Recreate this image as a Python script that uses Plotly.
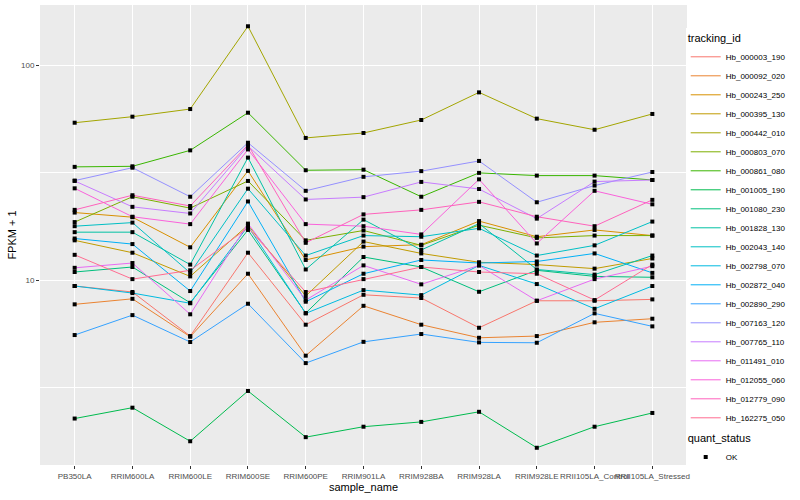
import plotly.graph_objects as go

samples = ["PB350LA", "RRIM600LA", "RRIM600LE", "RRIM600SE", "RRIM600PE", "RRIM901LA",
           "RRIM928BA", "RRIM928LA", "RRIM928LE", "RRII105LA_Control", "RRII105LA_Stressed"]

tracking_ids = ["Hb_000003_190", "Hb_000092_020", "Hb_000243_250", "Hb_000395_130", "Hb_000442_010",
                "Hb_000803_070", "Hb_000861_080", "Hb_001005_190", "Hb_001080_230", "Hb_001828_130",
                "Hb_002043_140", "Hb_002798_070", "Hb_002872_040", "Hb_002890_290", "Hb_007163_120",
                "Hb_007765_110", "Hb_011491_010", "Hb_012055_060", "Hb_012779_090", "Hb_162275_050"]

colors = ["#F8766D", "#EA8331", "#D89000", "#C09B00", "#A3A500", "#7CAE00", "#39B600", "#00BB4E",
          "#00BF7D", "#00C1A3", "#00BFC4", "#00BAE0", "#00B0F6", "#35A2FF", "#9590FF", "#C77CFF",
          "#E76BF3", "#FA62DB", "#FF62BC", "#FF6C91"]

# FPKM + 1 values per gene, in the order of `samples`
hb_000003_190 = [9.38, 8.80, 5.49, 13.4, 6.20, 8.54, 8.25, 6.00, 8.01, 8.01, 8.13]
hb_000092_020 = [7.71, 8.18, 5.45, 10.7, 4.45, 7.59, 6.20, 5.39, 5.49, 6.36, 6.61]
hb_000243_250 = [20.6, 19.6, 14.2, 32.2, 12.4, 14.3, 14.6, 18.8, 15.9, 17.1, 16.1]
hb_000395_130 = [15.3, 13.4, 10.4, 18.0, 8.43, 15.1, 13.3, 12.1, 11.8, 11.3, 12.6]
hb_000442_010 = [53.9, 57.5, 62.4, 151.4, 45.8, 48.3, 55.5, 74.6, 56.3, 50.0, 59.2]
hb_000803_070 = [18.6, 24.4, 21.6, 28.9, 15.3, 17.0, 14.5, 18.0, 15.7, 16.1, 16.1]
hb_000861_080 = [33.6, 33.8, 40.1, 60.0, 32.4, 32.6, 24.4, 31.5, 30.6, 30.6, 29.2]
hb_001005_190 = [2.27, 2.55, 1.78, 3.05, 1.86, 2.08, 2.19, 2.44, 1.66, 2.08, 2.41]
hb_001080_230 = [10.9, 11.5, 7.84, 17.1, 7.02, 12.8, 11.5, 8.82, 11.1, 10.4, 10.3]
hb_001828_130 = [16.7, 16.7, 11.8, 37.1, 11.2, 19.1, 13.8, 18.3, 11.2, 10.6, 13.0]
hb_002043_140 = [17.8, 18.5, 10.8, 26.6, 13.0, 16.1, 15.9, 17.4, 13.0, 14.5, 18.7]
hb_002798_070 = [9.38, 8.70, 7.80, 17.8, 7.00, 8.98, 8.51, 11.7, 9.58, 7.35, 9.38]
hb_002872_040 = [15.6, 14.7, 8.89, 23.2, 7.93, 10.7, 12.4, 12.0, 12.2, 13.3, 10.8]
hb_002890_290 = [5.55, 6.87, 5.15, 7.76, 4.11, 5.16, 5.61, 5.13, 5.11, 7.00, 6.09]
hb_007163_120 = [29.0, 33.3, 24.4, 43.5, 26.0, 30.2, 32.1, 35.8, 23.0, 27.5, 31.8]
hb_007765_110 = [28.9, 21.9, 20.4, 42.0, 23.7, 24.3, 28.6, 26.5, 19.3, 28.7, 29.2]
hb_011491_010 = [11.4, 12.0, 6.93, 18.3, 8.07, 11.7, 9.55, 11.7, 8.01, 10.1, 11.6]
hb_012055_060 = [26.7, 19.7, 18.2, 40.5, 18.2, 17.8, 16.3, 29.4, 14.8, 26.0, 22.5]
hb_012779_090 = [21.2, 24.8, 22.1, 42.5, 14.9, 20.2, 21.2, 23.1, 19.7, 17.8, 23.6]
hb_162275_050 = [13.1, 10.1, 11.1, 17.5, 8.80, 10.1, 11.5, 10.9, 10.7, 8.07, 11.8]

series = [hb_000003_190, hb_000092_020, hb_000243_250, hb_000395_130, hb_000442_010,
          hb_000803_070, hb_000861_080, hb_001005_190, hb_001080_230, hb_001828_130,
          hb_002043_140, hb_002798_070, hb_002872_040, hb_002890_290, hb_007163_120,
          hb_007765_110, hb_011491_010, hb_012055_060, hb_012779_090, hb_162275_050]

FONT = "Liberation Sans, Arial, sans-serif"

fig = go.Figure()
for name, vals, col in zip(tracking_ids, series, colors):
    fig.add_trace(go.Scatter(x=samples, y=vals, mode="lines", name=name,
                             line=dict(color=col, width=1), legend="legend"))

# points on top of every line
all_x, all_y = [], []
for vals in series:
    all_x += samples
    all_y += vals
fig.add_trace(go.Scatter(x=all_x, y=all_y, mode="markers", name="OK",
                         marker=dict(symbol="square", size=4, color="black"),
                         legend="legend2"))

fig.update_layout(
    width=800, height=500,
    margin=dict(l=40, r=113, t=5, b=35, autoexpand=False),
    paper_bgcolor="white", plot_bgcolor="#EBEBEB",
    font=dict(family=FONT, size=9, color="black"),
    showlegend=True,
    legend=dict(title=dict(text="tracking_id", font=dict(size=11)),
                font=dict(size=8, color="black"), x=0.998, xanchor="left",
                y=0.95, yanchor="top", itemwidth=30, bgcolor="white"),
    legend2=dict(title=dict(text="quant_status", font=dict(size=11)),
                 font=dict(size=8, color="black"), x=0.998, xanchor="left",
                 y=0.08, yanchor="top", itemwidth=30, bgcolor="white"),
    xaxis=dict(type="category", categoryorder="array", categoryarray=samples,
               range=[-0.6, len(samples) - 0.4], showgrid=True, gridcolor="white", gridwidth=1.1,
               zeroline=False, ticks="outside", ticklen=3, tickcolor="#333333", tickwidth=1,
               tickangle=0, tickfont=dict(size=8, color="#4D4D4D"), automargin=False,
               title=dict(text="sample_name", font=dict(size=11), standoff=2),
               showline=False),
    yaxis=dict(type="log", range=[0.14, 2.279], tickvals=[10, 100], ticktext=["10", "100"],
               showgrid=True, gridcolor="white", gridwidth=1.1, zeroline=False,
               ticks="outside", ticklen=3, tickcolor="#333333", tickwidth=1,
               tickfont=dict(size=8, color="#4D4D4D"), automargin=False,
               minor=dict(tickvals=[3.1623, 31.623], showgrid=True, gridcolor="white",
                          gridwidth=0.5, ticks=""),
               title=dict(text="FPKM + 1", font=dict(size=11), standoff=2),
               showline=False),
)

fig.write_html("out.html", config={"displayModeBar": False},
               post_script="document.body.style.margin='0px';")
